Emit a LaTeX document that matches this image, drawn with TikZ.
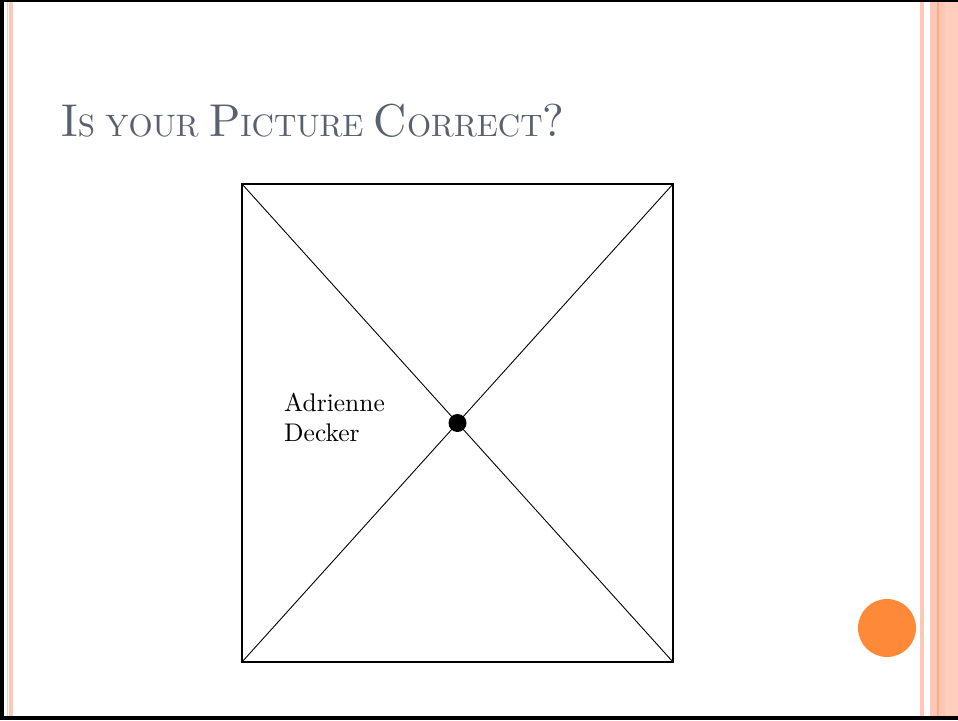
\documentclass[tikz,border=0pt]{standalone}
\usepackage{fontspec}
\setmainfont{lmroman10-regular.otf}
\newfontfamily\lmten{lmroman10-regular.otf}
\definecolor{titlegray}{RGB}{89,97,111}
\definecolor{stripe}{RGB}{255,200,182}
\definecolor{stripedark}{RGB}{255,172,128}
\definecolor{stripemid}{RGB}{255,206,188}
\definecolor{dotorange}{RGB}{253,137,57}
\newcommand\tbig[1]{{\fontsize{46}{50}\selectfont #1}}
\newcommand\tsmall[1]{{\fontsize{31}{34}\selectfont #1}}
\begin{document}
\begin{tikzpicture}[x=1pt,y=-1pt,
  edge/.style={draw=black,line width=1.2pt},
  diag/.style={draw=black,line width=0.9pt},
  lbl/.style={anchor=base west,font=\lmten\fontsize{25.5}{28}\selectfont,inner sep=0pt}]
\useasboundingbox (0,0) rectangle (958,720);
\fill[white] (0,0) rectangle (958,720);
% left stripes
\fill[stripe] (7,0) rectangle (8,720);
\fill[stripe] (9,0) rectangle (13,720);
% right stripes
\fill[stripe] (920,0) rectangle (924,720);
\fill[stripe] (930,0) rectangle (937,720);
\fill[stripedark] (937,0) rectangle (939,720);
\fill[stripe] (939,0) rectangle (945,720);
\fill[stripemid] (945,0) rectangle (958,720);
% frame
\fill[black] (0,0) rectangle (4,720);
\fill[black] (0,0) rectangle (958,2);
\fill[black] (0,716) rectangle (958,720);
% title
\node[anchor=base west,inner sep=0pt,text=titlegray,font=\lmten] (title) at (61,136)
  {\tbig{I}\tsmall{S YOUR }\tbig{P}\tsmall{ICTURE }\tbig{C}\tsmall{ORRECT}\tbig{?}};
% square
\coordinate (tl) at (242,184);
\coordinate (tr) at (673,184);
\coordinate (br) at (673,662);
\coordinate (bl) at (242,662);
\draw[diag] (tl) -- (br);
\draw[diag] (tr) -- (bl);
\draw[edge] (tl) -- (tr) -- (br) -- (bl) -- cycle;
\node[circle,fill=black,minimum size=18pt,inner sep=0pt] (dot) at (457.5,423) {};
\node[lbl] (name1) at (284,411) {Adrienne};
\node[lbl] (name2) at (284,441) {Decker};
\node[circle,fill=dotorange,minimum size=58pt,inner sep=0pt] (orb) at (887,628) {};
\end{tikzpicture}
\end{document}
